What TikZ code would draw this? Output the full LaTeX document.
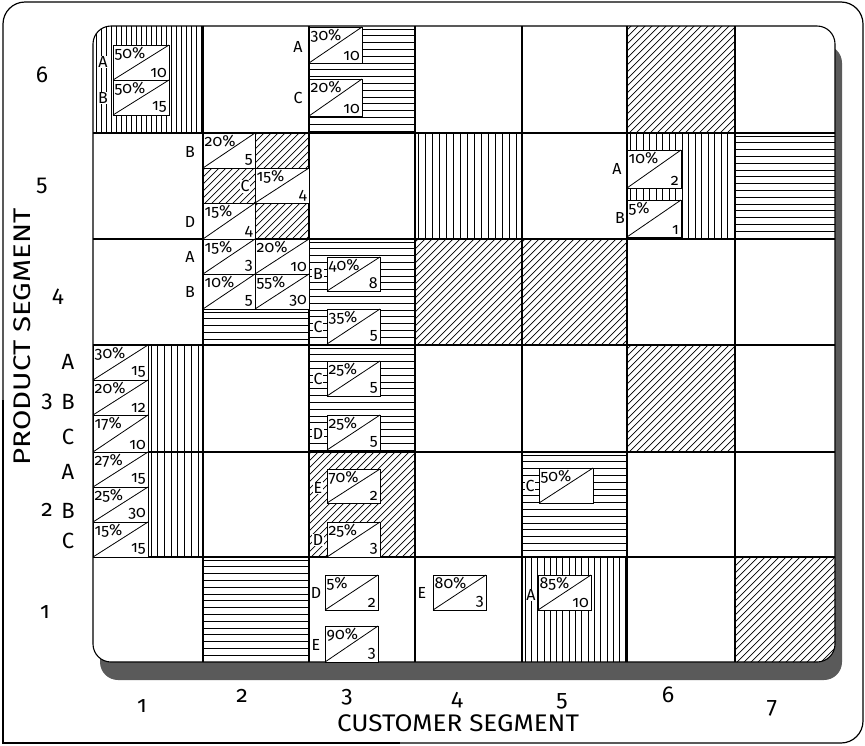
\documentclass[tikz,border=0pt]{standalone}
\usepackage{fontspec}
\setmainfont{Fira Sans}[Numbers=OldStyle]
\newfontfamily\liningfont{Fira Sans}[Numbers=Lining]
\definecolor{shadowgray}{HTML}{5A5A5A}
\tikzset{
  gridline/.style={line width=1.1pt},
  hatchline/.style={line width=0.75pt},
  sharebox/.style={draw, fill=white, line width=1pt, inner sep=0pt, outer sep=0pt, anchor=north west},
  pcttext/.style={font=\fontsize{16}{16}\selectfont, inner sep=1.5pt, anchor=north west},
  numtext/.style={font=\fontsize{16}{16}\selectfont, inner sep=2pt, anchor=south east},
  tag/.style={font=\fontsize{16}{16}\selectfont, inner sep=0.8pt},
  axisnum/.style={font=\fontsize{23}{23}\selectfont},
  axisletter/.style={font=\fontsize{22}{22}\selectfont},
  axistitle/.style={font=\fontsize{24}{24}\selectfont}
}

\begin{document}
\begin{tikzpicture}[x=1pt, y=-1pt]
  \useasboundingbox (0,0) rectangle (865,745);

  % outer frame, square corner at bottom left
  \draw[line width=1.2pt, rounded corners=22pt] (3,400) -- (3,2) -- (863,2) -- (863,743) -- (400,743);
  \draw[line width=1.2pt] (3,400) -- (3,743) -- (400,743);

  % shadow and grid body
  \fill[shadowgray, rounded corners=18pt] (100,45) rectangle (842,680);
  \fill[white, rounded corners=18pt] (93,26) rectangle (835,662);

  \begin{scope}
    \clip[rounded corners=18pt] (93,26) rectangle (835,662);
    % vertical rules
    \foreach \xa/\ya/\xb/\yb/\gap in {93/26/203/133/5, 415/133/522/239/7, 627/133/735/239/6.5,
        522/557/627/662/6.3, 148/345/203/452/6.7, 148/452/203/557/6.7}
    {
      \begin{scope}
        \clip (\xa,\ya) rectangle (\xb,\yb);
        \foreach \k in {0,...,22}
          \draw[hatchline] (\xa+3+\k*\gap,\ya) -- (\xa+3+\k*\gap,\yb);
      \end{scope}
    }
    % horizontal rules
    \foreach \xa/\ya/\xb/\yb in {309/26/415/133, 735/133/835/239, 309/239/415/345,
        309/345/415/452, 522/452/627/557, 203/557/309/662, 203/309/309/345}
    {
      \begin{scope}
        \clip (\xa,\ya) rectangle (\xb,\yb);
        \foreach \k in {0,...,16}
          \draw[hatchline] (\xa,\ya+3+\k*6.8) -- (\xb,\ya+3+\k*6.8);
      \end{scope}
    }
    % diagonal hatching
    \foreach \xa/\ya/\xb/\yb in {627/26/735/133, 415/239/522/345, 522/239/627/345,
        627/345/735/452, 309/452/415/557, 735/557/835/662,
        255/133/309/168, 203/168/255/203, 255/203/309/239}
    {
      \begin{scope}
        \clip (\xa,\ya) rectangle (\xb,\yb);
        \foreach \k in {0,...,32}
          \draw[hatchline, line width=0.7pt] (\xa-112+\k*7,\yb+2) -- ++(112,-112);
      \end{scope}
    }
  \end{scope}

  % cell grid
  \draw[gridline, rounded corners=18pt] (93,26) rectangle (835,662);
  \foreach \x in {203,309,415,522,627,735}
    \draw[gridline] (\x,26) -- (\x,662);
  \foreach \y in {133,239,345,452,557}
    \draw[gridline] (93,\y) -- (835,\y);

  % share boxes
  \foreach \bx/\by/\bw/\bh/\pct/\num/\nm in {
      113/45/56/35/50\%/10/sa, 113/80/56/35/50\%/15/sb,
      309/27/53/36/30\%/10/sc, 309/79/53/37/20\%/10/sd,
      203/133/52/35/20\%/5/se, 255/168/54/35/15\%/4/sf, 203/203/52/36/15\%/4/sg,
      627/150/54/38/10\%/2/sh, 627/200/54/37/5\%/1/si,
      203/239/52/35/15\%/3/sj, 255/239/54/35/20\%/10/sk,
      203/274/52/35/10\%/5/sl, 255/274/54/35/55\%/30/sm,
      327/257/53/34/40\%/8/sn, 327/309/53/35/35\%/5/so,
      93/345/55/35/30\%/15/sp, 93/380/55/35/20\%/12/sq, 93/415/55/37/17\%/10/sr,
      327/361/53/35/25\%/5/ss, 327/415/53/35/25\%/5/st,
      93/452/55/35/27\%/15/su, 93/487/55/35/25\%/30/sv, 93/522/55/35/15\%/15/sw,
      327/469/53/34/70\%/2/sx, 327/522/53/35/25\%/3/sy,
      539/468/54/35/50\%//sz,
      325/575/53/35/5\%/2/ta, 325/626/53/36/90\%/3/tb,
      433/575/53/35/80\%/3/tc, 538/575/53/35/85\%/10/td}
  {
    \node[sharebox, minimum width={\bw pt}, minimum height={\bh pt}] (\nm) at (\bx,\by) {};
    \draw[line width=0.8pt] (\nm.south west) -- (\nm.north east);
    \node[pcttext] (\nm-pct) at (\nm.north west) {\pct};
    \node[numtext] (\nm-num) at (\nm.south east) {\num};
  }

  % product letters beside the boxes
  \foreach \tx/\ty/\tl/\bg/\nm in {
      103/62/A/white/la, 103/98/B/white/lb,
      298/47/A/none/lc, 298/98/C/none/ld,
      190/152/B/none/le, 245/186/C/white/lf, 190/222/D/none/lg,
      617/169/A/none/lh, 620/218/B/none/li,
      190/257/A/none/lj, 190/292/B/none/lk,
      318/274/B/white/ll, 318/327/C/white/lm,
      318/379/C/white/ln, 318/434/D/white/lo,
      318/488/E/white/lp, 318/540/D/white/lq,
      530/486/C/white/lr,
      316/593/D/none/ls, 316/645/E/none/lt,
      422/593/E/none/lu, 531/595/A/white/lv}
    \node[tag, fill=\bg] (\nm) at (\tx,\ty) {\tl};

  % product segment axis
  \foreach \tx/\ty/\tl/\nm in {42/75/{\liningfont 6}/r6, 42/186/{\liningfont 5}/r5,
      58/297/{\liningfont 4}/r4, 47/402/{\liningfont 3}/r3, 47/510/2/r2, 45/612/1/r1}
    \node[axisnum] (\nm) at (\tx,\ty) {\tl};
  \foreach \ty/\tl/\nm in {362/A/pa, 402/B/pb, 437/C/pc, 472/A/pd, 511/B/pe, 541/C/pf}
    \node[axisletter] (\nm) at (68,\ty) {\tl};
  \node[axistitle, rotate=90] (prodaxis) at (22,337) {\scalebox{1.23}[1]{PRODUCT SEGMENT}};

  % customer segment axis
  \foreach \tx/\ty/\tl/\nm in {142/706/1/c1, 242/696/2/c2, 347/697/3/c3, 457/700/4/c4,
      562/701/5/c5, 668/695/6/c6, 772/708/7/c7}
    \node[axisnum] (\nm) at (\tx,\ty) {\tl};
  \node[axistitle] (custaxis) at (458,723) {\scalebox{1.085}[1]{CUSTOMER SEGMENT}};
\end{tikzpicture}
\end{document}
